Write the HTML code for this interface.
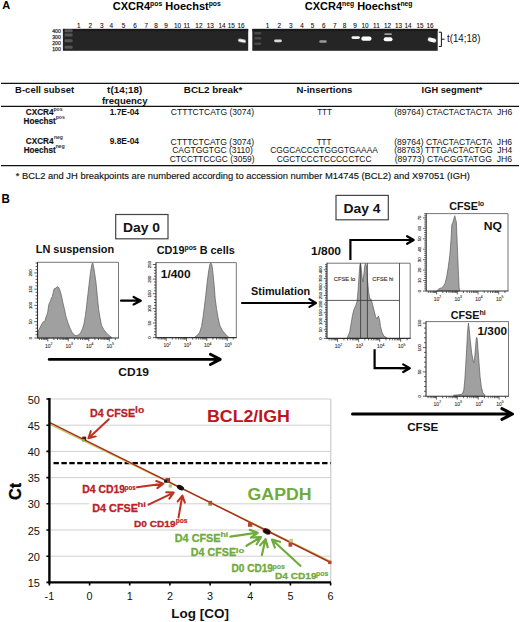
<!DOCTYPE html>
<html><head><meta charset="utf-8"><style>
html,body{margin:0;padding:0;background:#fff;}
svg{display:block;font-family:"Liberation Sans", sans-serif;}
</style></head><body>
<svg width="520" height="622" viewBox="0 0 520 622" font-family='"Liberation Sans", sans-serif'>
<rect width="520" height="622" fill="#fff"/>
<text x="2.3" y="8.9" font-size="11" font-weight="bold" fill="#000">A</text>
<text x="112.8" y="9.5" font-size="10.5" font-weight="bold" textLength="108" lengthAdjust="spacingAndGlyphs">CXCR4<tspan font-size="6.5" dy="-3.5">pos</tspan><tspan dy="3.5"> Hoechst</tspan><tspan font-size="6.5" dy="-3.5">pos</tspan></text>
<text x="304.8" y="9.5" font-size="10.5" font-weight="bold" textLength="107.7" lengthAdjust="spacingAndGlyphs">CXCR4<tspan font-size="6.5" dy="-3.5">neg</tspan><tspan dy="3.5"> Hoechst</tspan><tspan font-size="6.5" dy="-3.5">neg</tspan></text>
<rect x="62.9" y="28.9" width="185.29999999999998" height="21.9" fill="#252525"/>
<rect x="252.3" y="28.9" width="185.39999999999998" height="21.9" fill="#252525"/>
<rect x="62.9" y="28.9" width="185.29999999999998" height="2.2" fill="#1a1a1a"/>
<rect x="252.3" y="28.9" width="185.39999999999998" height="2.2" fill="#1a1a1a"/>
<text x="60.8" y="32.8" font-size="5.2" fill="#333" text-anchor="end" stroke="#333" stroke-width="0.25">400</text>
<text x="60.8" y="38.6" font-size="5.2" fill="#333" text-anchor="end" stroke="#333" stroke-width="0.25">300</text>
<text x="60.8" y="44.7" font-size="5.2" fill="#333" text-anchor="end" stroke="#333" stroke-width="0.25">200</text>
<text x="60.8" y="50.5" font-size="5.2" fill="#333" text-anchor="end" stroke="#333" stroke-width="0.25">100</text>
<rect x="64.6" y="29.3" width="8.0" height="3.0" fill="#555" rx="1" filter="url(#bl)"/>
<rect x="64.6" y="33.6" width="8.0" height="3.0" fill="#555" rx="1" filter="url(#bl)"/>
<rect x="64.6" y="39.2" width="8.0" height="3.0" fill="#555" rx="1" filter="url(#bl)"/>
<rect x="64.6" y="45.7" width="8.0" height="3.0" fill="#555" rx="1" filter="url(#bl)"/>
<rect x="254.3" y="31.900000000000002" width="7.0" height="2.6" fill="#484848" rx="1" filter="url(#bl)"/>
<rect x="254.3" y="37.0" width="7.0" height="2.6" fill="#484848" rx="1" filter="url(#bl)"/>
<rect x="254.3" y="42.5" width="7.0" height="2.6" fill="#484848" rx="1" filter="url(#bl)"/>
<text x="78.7" y="27.7" font-size="6.4" fill="#111" text-anchor="middle" stroke="#111" stroke-width="0.1">1</text>
<text x="90.2" y="27.7" font-size="6.4" fill="#111" text-anchor="middle" stroke="#111" stroke-width="0.1">2</text>
<text x="101.7" y="27.7" font-size="6.4" fill="#111" text-anchor="middle" stroke="#111" stroke-width="0.1">3</text>
<text x="111.3" y="27.7" font-size="6.4" fill="#111" text-anchor="middle" stroke="#111" stroke-width="0.1">4</text>
<text x="123.5" y="27.7" font-size="6.4" fill="#111" text-anchor="middle" stroke="#111" stroke-width="0.1">5</text>
<text x="135" y="27.7" font-size="6.4" fill="#111" text-anchor="middle" stroke="#111" stroke-width="0.1">6</text>
<text x="146.3" y="27.7" font-size="6.4" fill="#111" text-anchor="middle" stroke="#111" stroke-width="0.1">7</text>
<text x="156" y="27.7" font-size="6.4" fill="#111" text-anchor="middle" stroke="#111" stroke-width="0.1">8</text>
<text x="166" y="27.7" font-size="6.4" fill="#111" text-anchor="middle" stroke="#111" stroke-width="0.1">9</text>
<text x="177.6" y="27.7" font-size="6.4" fill="#111" text-anchor="middle" stroke="#111" stroke-width="0.1">10</text>
<text x="186.8" y="27.7" font-size="6.4" fill="#111" text-anchor="middle" stroke="#111" stroke-width="0.1">11</text>
<text x="198.9" y="27.7" font-size="6.4" fill="#111" text-anchor="middle" stroke="#111" stroke-width="0.1">12</text>
<text x="210.2" y="27.7" font-size="6.4" fill="#111" text-anchor="middle" stroke="#111" stroke-width="0.1">13</text>
<text x="222.1" y="27.7" font-size="6.4" fill="#111" text-anchor="middle" stroke="#111" stroke-width="0.1">14</text>
<text x="231.3" y="27.7" font-size="6.4" fill="#111" text-anchor="middle" stroke="#111" stroke-width="0.1">15</text>
<text x="241.1" y="27.7" font-size="6.4" fill="#111" text-anchor="middle" stroke="#111" stroke-width="0.1">16</text>
<text x="267.5" y="27.7" font-size="6.4" fill="#111" text-anchor="middle" stroke="#111" stroke-width="0.1">1</text>
<text x="279.2" y="27.7" font-size="6.4" fill="#111" text-anchor="middle" stroke="#111" stroke-width="0.1">2</text>
<text x="290.8" y="27.7" font-size="6.4" fill="#111" text-anchor="middle" stroke="#111" stroke-width="0.1">3</text>
<text x="302.1" y="27.7" font-size="6.4" fill="#111" text-anchor="middle" stroke="#111" stroke-width="0.1">4</text>
<text x="312.6" y="27.7" font-size="6.4" fill="#111" text-anchor="middle" stroke="#111" stroke-width="0.1">5</text>
<text x="323.9" y="27.7" font-size="6.4" fill="#111" text-anchor="middle" stroke="#111" stroke-width="0.1">6</text>
<text x="334.9" y="27.7" font-size="6.4" fill="#111" text-anchor="middle" stroke="#111" stroke-width="0.1">7</text>
<text x="344.5" y="27.7" font-size="6.4" fill="#111" text-anchor="middle" stroke="#111" stroke-width="0.1">8</text>
<text x="355" y="27.7" font-size="6.4" fill="#111" text-anchor="middle" stroke="#111" stroke-width="0.1">9</text>
<text x="365.1" y="27.7" font-size="6.4" fill="#111" text-anchor="middle" stroke="#111" stroke-width="0.1">10</text>
<text x="376.4" y="27.7" font-size="6.4" fill="#111" text-anchor="middle" stroke="#111" stroke-width="0.1">11</text>
<text x="387.6" y="27.7" font-size="6.4" fill="#111" text-anchor="middle" stroke="#111" stroke-width="0.1">12</text>
<text x="398.6" y="27.7" font-size="6.4" fill="#111" text-anchor="middle" stroke="#111" stroke-width="0.1">13</text>
<text x="408.1" y="27.7" font-size="6.4" fill="#111" text-anchor="middle" stroke="#111" stroke-width="0.1">14</text>
<text x="420" y="27.7" font-size="6.4" fill="#111" text-anchor="middle" stroke="#111" stroke-width="0.1">15</text>
<text x="430" y="27.7" font-size="6.4" fill="#111" text-anchor="middle" stroke="#111" stroke-width="0.1">16</text>
<defs><filter id="bl" x="-50%" y="-80%" width="200%" height="260%"><feGaussianBlur stdDeviation="0.55"/></filter><filter id="bl2" x="-50%" y="-80%" width="200%" height="260%"><feGaussianBlur stdDeviation="0.35"/></filter></defs>
<rect x="238.1" y="39.2" width="7.8" height="3.0" rx="1.5" fill="#f6f6f6" filter="url(#bl)" transform="rotate(12 242 40.7)"/>
<rect x="274.1" y="39.4" width="7.8" height="2.8" rx="1.4" fill="#d8d8d8" filter="url(#bl)" transform="rotate(0 278 40.8)"/>
<rect x="319.3" y="40.3" width="7.4" height="2.4" rx="1.2" fill="#9a9a9a" filter="url(#bl)" transform="rotate(0 323 41.5)"/>
<rect x="351.5" y="36.2" width="8.4" height="2.8" rx="1.4" fill="#f2f2f2" filter="url(#bl)" transform="rotate(0 355.7 37.6)"/>
<rect x="361.3" y="36.6" width="10.2" height="4.2" rx="2" fill="#ffffff" filter="url(#bl)" transform="rotate(0 366.4 38.7)"/>
<rect x="383.7" y="37.3" width="8.8" height="4.0" rx="2.0" fill="#ffffff" filter="url(#bl)" transform="rotate(0 388.1 39.3)"/>
<rect x="384.3" y="33.3" width="7.6" height="1.8" rx="0.9" fill="#9a9a9a" filter="url(#bl)" transform="rotate(0 388.1 34.2)"/>
<rect x="427.7" y="38.0" width="8.6" height="4.0" rx="2.0" fill="#fafafa" filter="url(#bl)" transform="rotate(14 432 40.0)"/>
<path d="M438.8,32.2 H441.4 V46.4 H438.8 M441.4,39.2 H444.6" fill="none" stroke="#111" stroke-width="1"/>
<text x="447.09" y="42.3" font-size="10.3" fill="#111" textLength="33.32" lengthAdjust="spacingAndGlyphs">t(14;18)</text>
<line x1="1" y1="83.3" x2="519" y2="83.3" stroke="#111" stroke-width="1.3"/>
<line x1="1" y1="106.3" x2="519" y2="106.3" stroke="#111" stroke-width="1.3"/>
<line x1="1" y1="165.7" x2="519" y2="165.7" stroke="#111" stroke-width="1.3"/>
<text x="15.11" y="92.5" font-size="9.8" font-weight="bold" fill="#111" textLength="58.98" lengthAdjust="spacingAndGlyphs">B-cell subset</text>
<text x="107.11" y="93.3" font-size="9.8" font-weight="bold" fill="#111" textLength="35.08" lengthAdjust="spacingAndGlyphs">t(14;18)</text>
<text x="101.91" y="104.0" font-size="9.8" font-weight="bold" fill="#111" textLength="45.58" lengthAdjust="spacingAndGlyphs">frequency</text>
<text x="183.81" y="92.5" font-size="9.8" font-weight="bold" fill="#111" textLength="58.58" lengthAdjust="spacingAndGlyphs">BCL2 break*</text>
<text x="296.61" y="92.5" font-size="9.8" font-weight="bold" fill="#111" textLength="55.78" lengthAdjust="spacingAndGlyphs">N-insertions</text>
<text x="421.61" y="92.5" font-size="9.8" font-weight="bold" fill="#111" textLength="60.78" lengthAdjust="spacingAndGlyphs">IGH segment*</text>
<text x="25.87" y="114.9" font-size="8.3" font-weight="bold" fill="#111" textLength="27.66" lengthAdjust="spacingAndGlyphs" stroke="#111" stroke-width="0.15">CXCR4</text>
<text x="53.38" y="110.6" font-size="5.4" font-weight="bold" fill="#333" textLength="9.13" lengthAdjust="spacingAndGlyphs">pos</text>
<text x="23.57" y="124.2" font-size="8.3" font-weight="bold" fill="#111" textLength="32.16" lengthAdjust="spacingAndGlyphs" stroke="#111" stroke-width="0.15">Hoechst</text>
<text x="55.68" y="119.3" font-size="5.4" font-weight="bold" fill="#333" textLength="9.13" lengthAdjust="spacingAndGlyphs">pos</text>
<text x="109.67" y="115" font-size="8.3" font-weight="bold" fill="#111" textLength="29.36" lengthAdjust="spacingAndGlyphs">1.7E-04</text>
<text x="170.87" y="115" font-size="8.3" fill="#111" textLength="83.16" lengthAdjust="spacingAndGlyphs">CTTTCTCATG (3074)</text>
<text x="317.17" y="115" font-size="8.3" fill="#111" textLength="14.86" lengthAdjust="spacingAndGlyphs">TTT</text>
<text x="394.17" y="115" font-size="8.3" fill="#111" textLength="118.16" lengthAdjust="spacingAndGlyphs">(89764) CTACTACTACTA&#160;&#160;JH6</text>
<text x="25.87" y="143.7" font-size="8.3" font-weight="bold" fill="#111" textLength="27.66" lengthAdjust="spacingAndGlyphs" stroke="#111" stroke-width="0.15">CXCR4</text>
<text x="53.88" y="139.4" font-size="5.4" font-weight="bold" fill="#333" textLength="8.83" lengthAdjust="spacingAndGlyphs">neg</text>
<text x="23.67" y="152.8" font-size="8.3" font-weight="bold" fill="#111" textLength="31.96" lengthAdjust="spacingAndGlyphs" stroke="#111" stroke-width="0.15">Hoechst</text>
<text x="55.38" y="147.6" font-size="5.4" font-weight="bold" fill="#333" textLength="9.43" lengthAdjust="spacingAndGlyphs">neg</text>
<text x="109.67" y="143.8" font-size="8.3" font-weight="bold" fill="#111" textLength="29.36" lengthAdjust="spacingAndGlyphs">9.8E-04</text>
<text x="170.47" y="144.5" font-size="8.3" fill="#111" textLength="83.66" lengthAdjust="spacingAndGlyphs">CTTTCTCATG (3074)</text>
<text x="172.17" y="153.0" font-size="8.3" fill="#111" textLength="80.66" lengthAdjust="spacingAndGlyphs">CAGTGGTGC (3110)</text>
<text x="169.67" y="161.7" font-size="8.3" fill="#111" textLength="84.86" lengthAdjust="spacingAndGlyphs">CTCCTTCCGC (3059)</text>
<text x="316.67" y="144.5" font-size="8.3" fill="#111" textLength="14.86" lengthAdjust="spacingAndGlyphs">TTT</text>
<text x="270.17" y="153.0" font-size="8.3" fill="#111" textLength="107.66" lengthAdjust="spacingAndGlyphs">CGGCACCGTGGGTGAAAA</text>
<text x="276.67" y="161.7" font-size="8.3" fill="#111" textLength="94.86" lengthAdjust="spacingAndGlyphs">CGCTCCCTCCCCCTCC</text>
<text x="394.17" y="144.5" font-size="8.3" fill="#111" textLength="117.96" lengthAdjust="spacingAndGlyphs">(89764) CTACTACTACTA&#160;&#160;JH6</text>
<text x="394.17" y="153.0" font-size="8.3" fill="#111" textLength="117.96" lengthAdjust="spacingAndGlyphs">(88763) TTTGACTACTGG&#160;&#160;JH4</text>
<text x="394.67" y="161.7" font-size="8.3" fill="#111" textLength="117.46" lengthAdjust="spacingAndGlyphs">(89773) CTACGGTATGG&#160;&#160;JH6</text>
<text x="15.8" y="179.3" font-size="9.9" fill="#111" textLength="454.09" lengthAdjust="spacingAndGlyphs" stroke="#111" stroke-width="0.15">* BCL2 and JH breakpoints are numbered according to accession number M14745 (BCL2) and X97051 (IGH)</text>
<text x="1.41" y="202.7" font-size="12.2" font-weight="bold" fill="#000" textLength="8.38" lengthAdjust="spacingAndGlyphs">B</text>
<rect x="115.7" y="214.5" width="52.3" height="24.3" fill="#fff" stroke="#444" stroke-width="1.2"/>
<text x="122.96" y="231.6" font-size="13.6" font-weight="bold" fill="#111" textLength="37.09" lengthAdjust="spacingAndGlyphs">Day 0</text>
<rect x="336" y="195.4" width="52.3" height="24.4" fill="#fff" stroke="#444" stroke-width="1.2"/>
<text x="343.46" y="212.8" font-size="13.6" font-weight="bold" fill="#111" textLength="37.09" lengthAdjust="spacingAndGlyphs">Day 4</text>
<text x="35.76" y="253" font-size="11" font-weight="bold" fill="#111" textLength="78.38" lengthAdjust="spacingAndGlyphs">LN suspension</text>
<text x="156.7" y="254.2" font-size="11" font-weight="bold" fill="#111" textLength="78" lengthAdjust="spacingAndGlyphs">CD19<tspan font-size="7" dy="-4">pos</tspan><tspan dy="4"> B cells</tspan></text>
<text x="311.04" y="255" font-size="11.5" font-weight="bold" fill="#111" textLength="29.92" lengthAdjust="spacingAndGlyphs">1/800</text>
<text x="449.2" y="210.3" font-size="10.6" font-weight="bold" fill="#111" textLength="35" lengthAdjust="spacingAndGlyphs">CFSE<tspan font-size="7" dy="-4">lo</tspan></text>
<text x="450.8" y="319.2" font-size="10.6" font-weight="bold" fill="#111" textLength="35" lengthAdjust="spacingAndGlyphs">CFSE<tspan font-size="7" dy="-4">hi</tspan></text>
<text x="251.07" y="294.8" font-size="10.8" font-weight="bold" fill="#111" textLength="59.16" lengthAdjust="spacingAndGlyphs">Stimulation</text>
<text x="118.37" y="376.2" font-size="10.8" font-weight="bold" fill="#111" textLength="30.66" lengthAdjust="spacingAndGlyphs">CD19</text>
<text x="407.15" y="431.4" font-size="11.2" font-weight="bold" fill="#111" textLength="31.2" lengthAdjust="spacingAndGlyphs">CFSE</text>
<polygon points="38.0,338.0 38.0,330.8 39.1,329.4 41.2,325.2 43.3,321.7 44.7,321.7 46.1,316.8 47.5,313.3 48.9,304.2 50.3,301.4 51.7,297.2 52.4,296.5 53.1,293.0 54.1,288.8 55.9,288.1 57.3,286.7 58.7,287.4 60.1,290.9 61.5,295.8 62.9,302.8 64.3,308.4 65.7,315.4 67.8,322.4 69.9,328.0 72.0,332.2 74.2,335.0 76.3,335.7 78.4,335.0 80.5,332.9 82.6,328.7 84.0,323.8 85.4,315.4 86.8,304.2 87.9,294.4 88.9,286.0 90.0,276.2 91.0,269.2 92.1,263.6 92.8,262.9 93.8,267.8 94.9,274.8 95.9,281.8 96.9,291.6 97.7,300.0 98.7,309.8 100.1,318.2 101.5,325.2 103.6,329.4 106.4,332.9 109.2,335.7 111.3,337.1 112.0,337.8 112.0,338.0" fill="#a0a0a0" stroke="#5a5a5a" stroke-width="0.7" stroke-linejoin="round"/>
<path d="M37.5,262.3 H118.5 V338.0" fill="none" stroke="#666" stroke-width="0.9"/>
<path d="M37.5,261.90000000000003 V338.0 H118.9" fill="none" stroke="#333" stroke-width="1.1"/>
<path d="M34.3,338.0H37.5 M35.5,334.7H37.5 M35.5,331.5H37.5 M35.5,328.2H37.5 M35.5,325.0H37.5 M34.3,321.7H37.5 M35.5,318.5H37.5 M35.5,315.2H37.5 M35.5,312.0H37.5 M35.5,308.7H37.5 M34.3,305.4H37.5 M35.5,302.2H37.5 M35.5,298.9H37.5 M35.5,295.7H37.5 M35.5,292.4H37.5 M34.3,289.2H37.5 M35.5,285.9H37.5 M35.5,282.7H37.5 M35.5,279.4H37.5 M35.5,276.2H37.5 M34.3,272.9H37.5 M35.5,269.6H37.5 M35.5,266.4H37.5 M35.5,263.1H37.5 M39.6,338.0V340.0 M41.6,338.0V340.0 M43.2,338.0V340.0 M44.6,338.0V340.0 M45.8,338.0V340.0 M46.8,338.0V340.0 M47.8,338.0V341.4 M53.9,338.0V340.0 M57.5,338.0V340.0 M60.1,338.0V340.0 M62.1,338.0V340.0 M63.7,338.0V340.0 M65.1,338.0V340.0 M66.3,338.0V340.0 M67.3,338.0V340.0 M68.3,338.0V341.4 M74.4,338.0V340.0 M78.0,338.0V340.0 M80.6,338.0V340.0 M82.6,338.0V340.0 M84.2,338.0V340.0 M85.6,338.0V340.0 M86.8,338.0V340.0 M87.8,338.0V340.0 M88.8,338.0V341.4 M94.9,338.0V340.0 M98.5,338.0V340.0 M101.1,338.0V340.0 M103.1,338.0V340.0 M104.7,338.0V340.0 M106.1,338.0V340.0 M107.3,338.0V340.0 M108.3,338.0V340.0 M109.3,338.0V341.4 M115.4,338.0V340.0" stroke="#222" stroke-width="0.7" fill="none"/>
<text x="45.0" y="347.6" font-size="5" fill="#333" stroke="#333" stroke-width="0.1">10<tspan font-size="3.4" dy="-2.4">2</tspan></text>
<text x="65.5" y="347.6" font-size="5" fill="#333" stroke="#333" stroke-width="0.1">10<tspan font-size="3.4" dy="-2.4">3</tspan></text>
<text x="86.0" y="347.6" font-size="5" fill="#333" stroke="#333" stroke-width="0.1">10<tspan font-size="3.4" dy="-2.4">4</tspan></text>
<text x="106.5" y="347.6" font-size="5" fill="#333" stroke="#333" stroke-width="0.1">10<tspan font-size="3.4" dy="-2.4">5</tspan></text>
<text x="32.2" y="338.0" font-size="4.4" fill="#222" stroke="#222" stroke-width="0.12" text-anchor="middle" transform="rotate(-90 32.2 338.0)">0</text>
<text x="32.2" y="321.7" font-size="4.4" fill="#222" stroke="#222" stroke-width="0.12" text-anchor="middle" transform="rotate(-90 32.2 321.7)">50</text>
<text x="32.2" y="305.4" font-size="4.4" fill="#222" stroke="#222" stroke-width="0.12" text-anchor="middle" transform="rotate(-90 32.2 305.4)">100</text>
<text x="32.2" y="289.2" font-size="4.4" fill="#222" stroke="#222" stroke-width="0.12" text-anchor="middle" transform="rotate(-90 32.2 289.2)">150</text>
<text x="32.2" y="272.9" font-size="4.4" fill="#222" stroke="#222" stroke-width="0.12" text-anchor="middle" transform="rotate(-90 32.2 272.9)">200</text>
<polygon points="194.8,337.6 194.8,337.1 197.6,335.0 199.7,332.2 201.5,326.6 202.9,318.2 204.3,307.0 205.7,295.8 207.1,283.2 208.5,272.0 209.9,264.3 210.9,262.9 211.9,265.0 213.0,273.4 214.1,284.6 215.2,298.6 216.5,308.4 217.9,316.8 219.7,325.2 222.1,330.1 224.9,333.6 227.7,336.4 229.1,337.5 229.1,337.6" fill="#a0a0a0" stroke="#5a5a5a" stroke-width="0.7" stroke-linejoin="round"/>
<path d="M156.0,262.6 H236.3 V337.6" fill="none" stroke="#666" stroke-width="0.9"/>
<path d="M156.0,262.20000000000005 V337.6 H236.70000000000002" fill="none" stroke="#333" stroke-width="1.1"/>
<path d="M152.8,337.6H156.0 M154.0,334.7H156.0 M154.0,331.8H156.0 M154.0,328.8H156.0 M154.0,325.9H156.0 M152.8,323.0H156.0 M154.0,320.1H156.0 M154.0,317.1H156.0 M154.0,314.2H156.0 M154.0,311.3H156.0 M152.8,308.4H156.0 M154.0,305.4H156.0 M154.0,302.5H156.0 M154.0,299.6H156.0 M154.0,296.7H156.0 M152.8,293.7H156.0 M154.0,290.8H156.0 M154.0,287.9H156.0 M154.0,285.0H156.0 M154.0,282.0H156.0 M152.8,279.1H156.0 M154.0,276.2H156.0 M154.0,273.2H156.0 M154.0,270.3H156.0 M154.0,267.4H156.0 M152.8,264.5H156.0 M158.1,337.6V339.6 M160.0,337.6V339.6 M161.7,337.6V339.6 M163.0,337.6V339.6 M164.2,337.6V339.6 M165.2,337.6V339.6 M166.2,337.6V341.0 M172.3,337.6V339.6 M175.9,337.6V339.6 M178.4,337.6V339.6 M180.4,337.6V339.6 M182.0,337.6V339.6 M183.3,337.6V339.6 M184.5,337.6V339.6 M185.6,337.6V339.6 M186.5,337.6V341.0 M192.6,337.6V339.6 M196.2,337.6V339.6 M198.7,337.6V339.6 M200.7,337.6V339.6 M202.3,337.6V339.6 M203.7,337.6V339.6 M204.9,337.6V339.6 M205.9,337.6V339.6 M206.8,337.6V341.0 M212.9,337.6V339.6 M216.5,337.6V339.6 M219.1,337.6V339.6 M221.0,337.6V339.6 M222.6,337.6V339.6 M224.0,337.6V339.6 M225.2,337.6V339.6 M226.2,337.6V339.6 M227.2,337.6V341.0 M233.3,337.6V339.6" stroke="#222" stroke-width="0.7" fill="none"/>
<text x="163.4" y="347.2" font-size="5" fill="#333" stroke="#333" stroke-width="0.1">10<tspan font-size="3.4" dy="-2.4">2</tspan></text>
<text x="183.7" y="347.2" font-size="5" fill="#333" stroke="#333" stroke-width="0.1">10<tspan font-size="3.4" dy="-2.4">3</tspan></text>
<text x="204.0" y="347.2" font-size="5" fill="#333" stroke="#333" stroke-width="0.1">10<tspan font-size="3.4" dy="-2.4">4</tspan></text>
<text x="224.4" y="347.2" font-size="5" fill="#333" stroke="#333" stroke-width="0.1">10<tspan font-size="3.4" dy="-2.4">5</tspan></text>
<text x="150.7" y="337.6" font-size="4.4" fill="#222" stroke="#222" stroke-width="0.12" text-anchor="middle" transform="rotate(-90 150.7 337.6)">0</text>
<text x="150.7" y="323.0" font-size="4.4" fill="#222" stroke="#222" stroke-width="0.12" text-anchor="middle" transform="rotate(-90 150.7 323.0)">50</text>
<text x="150.7" y="308.4" font-size="4.4" fill="#222" stroke="#222" stroke-width="0.12" text-anchor="middle" transform="rotate(-90 150.7 308.4)">100</text>
<text x="150.7" y="293.7" font-size="4.4" fill="#222" stroke="#222" stroke-width="0.12" text-anchor="middle" transform="rotate(-90 150.7 293.7)">150</text>
<text x="150.7" y="279.1" font-size="4.4" fill="#222" stroke="#222" stroke-width="0.12" text-anchor="middle" transform="rotate(-90 150.7 279.1)">200</text>
<text x="150.7" y="264.5" font-size="4.4" fill="#222" stroke="#222" stroke-width="0.12" text-anchor="middle" transform="rotate(-90 150.7 264.5)">250</text>
<text x="160.74" y="277.8" font-size="11.5" font-weight="bold" fill="#111" textLength="29.92" lengthAdjust="spacingAndGlyphs">1/400</text>
<polygon points="347.6,338.4 347.6,337.0 349.7,332.1 351.1,323.7 352.5,315.3 353.9,309.7 355.7,305.6 357.1,301.4 358.1,290.2 359.1,274.8 359.9,265.0 360.5,263.6 361.3,269.2 362.3,279.0 363.0,281.8 363.8,274.8 364.7,266.4 365.5,263.3 366.5,266.4 367.4,279.0 368.6,291.6 369.7,298.6 371.1,299.3 372.5,304.2 374.2,311.1 375.6,316.7 377.0,318.8 378.4,316.0 379.5,319.5 380.5,326.5 381.9,332.1 384.0,336.3 386.7,337.7 386.7,338.4" fill="#a0a0a0" stroke="#5a5a5a" stroke-width="0.7" stroke-linejoin="round"/>
<path d="M327.0,263.2 H410.2 V338.4" fill="none" stroke="#666" stroke-width="0.9"/>
<path d="M327.0,262.8 V338.4 H410.59999999999997" fill="none" stroke="#333" stroke-width="1.1"/>
<path d="M323.8,338.4H327.0 M325.0,336.7H327.0 M325.0,335.0H327.0 M325.0,333.3H327.0 M325.0,331.5H327.0 M323.8,329.8H327.0 M325.0,328.1H327.0 M325.0,326.4H327.0 M325.0,324.7H327.0 M325.0,323.0H327.0 M323.8,321.3H327.0 M325.0,319.5H327.0 M325.0,317.8H327.0 M325.0,316.1H327.0 M325.0,314.4H327.0 M323.8,312.7H327.0 M325.0,311.0H327.0 M325.0,309.3H327.0 M325.0,307.5H327.0 M325.0,305.8H327.0 M323.8,304.1H327.0 M325.0,302.4H327.0 M325.0,300.7H327.0 M325.0,299.0H327.0 M325.0,297.3H327.0 M323.8,295.5H327.0 M325.0,293.8H327.0 M325.0,292.1H327.0 M325.0,290.4H327.0 M325.0,288.7H327.0 M323.8,287.0H327.0 M325.0,285.2H327.0 M325.0,283.5H327.0 M325.0,281.8H327.0 M325.0,280.1H327.0 M323.8,278.4H327.0 M325.0,276.7H327.0 M325.0,275.0H327.0 M325.0,273.2H327.0 M325.0,271.5H327.0 M323.8,269.8H327.0 M325.0,268.1H327.0 M325.0,266.4H327.0 M325.0,264.7H327.0 M329.1,338.4V340.4 M331.2,338.4V340.4 M332.9,338.4V340.4 M334.3,338.4V340.4 M335.5,338.4V340.4 M336.6,338.4V340.4 M337.5,338.4V341.79999999999995 M343.9,338.4V340.4 M347.6,338.4V340.4 M350.2,338.4V340.4 M352.3,338.4V340.4 M353.9,338.4V340.4 M355.3,338.4V340.4 M356.6,338.4V340.4 M357.6,338.4V340.4 M358.6,338.4V341.79999999999995 M364.9,338.4V340.4 M368.6,338.4V340.4 M371.3,338.4V340.4 M373.3,338.4V340.4 M375.0,338.4V340.4 M376.4,338.4V340.4 M377.6,338.4V340.4 M378.7,338.4V340.4 M379.7,338.4V341.79999999999995 M386.0,338.4V340.4 M389.7,338.4V340.4 M392.3,338.4V340.4 M394.4,338.4V340.4 M396.0,338.4V340.4 M397.5,338.4V340.4 M398.7,338.4V340.4 M399.8,338.4V340.4 M400.7,338.4V341.79999999999995 M407.1,338.4V340.4" stroke="#222" stroke-width="0.7" fill="none"/>
<text x="334.7" y="348.0" font-size="5" fill="#333" stroke="#333" stroke-width="0.1">10<tspan font-size="3.4" dy="-2.4">2</tspan></text>
<text x="355.8" y="348.0" font-size="5" fill="#333" stroke="#333" stroke-width="0.1">10<tspan font-size="3.4" dy="-2.4">3</tspan></text>
<text x="376.9" y="348.0" font-size="5" fill="#333" stroke="#333" stroke-width="0.1">10<tspan font-size="3.4" dy="-2.4">4</tspan></text>
<text x="397.9" y="348.0" font-size="5" fill="#333" stroke="#333" stroke-width="0.1">10<tspan font-size="3.4" dy="-2.4">5</tspan></text>
<text x="321.7" y="338.4" font-size="4.4" fill="#222" stroke="#222" stroke-width="0.12" text-anchor="middle" transform="rotate(-90 321.7 338.4)">0</text>
<text x="321.7" y="329.8" font-size="4.4" fill="#222" stroke="#222" stroke-width="0.12" text-anchor="middle" transform="rotate(-90 321.7 329.8)">50</text>
<text x="321.7" y="321.3" font-size="4.4" fill="#222" stroke="#222" stroke-width="0.12" text-anchor="middle" transform="rotate(-90 321.7 321.3)">100</text>
<text x="321.7" y="312.7" font-size="4.4" fill="#222" stroke="#222" stroke-width="0.12" text-anchor="middle" transform="rotate(-90 321.7 312.7)">150</text>
<text x="321.7" y="304.1" font-size="4.4" fill="#222" stroke="#222" stroke-width="0.12" text-anchor="middle" transform="rotate(-90 321.7 304.1)">200</text>
<text x="321.7" y="295.5" font-size="4.4" fill="#222" stroke="#222" stroke-width="0.12" text-anchor="middle" transform="rotate(-90 321.7 295.5)">250</text>
<text x="321.7" y="287.0" font-size="4.4" fill="#222" stroke="#222" stroke-width="0.12" text-anchor="middle" transform="rotate(-90 321.7 287.0)">300</text>
<text x="321.7" y="278.4" font-size="4.4" fill="#222" stroke="#222" stroke-width="0.12" text-anchor="middle" transform="rotate(-90 321.7 278.4)">350</text>
<text x="321.7" y="269.8" font-size="4.4" fill="#222" stroke="#222" stroke-width="0.12" text-anchor="middle" transform="rotate(-90 321.7 269.8)">400</text>
<path d="M327,300.4 H399.5 M360.6,263.2 V338.4 M367.4,263.2 V338.4 M399.5,263.2 V338.4" stroke="#333" stroke-width="0.8" fill="none"/>
<text x="333.78" y="281.3" font-size="5.6" fill="#333" textLength="21.45" lengthAdjust="spacingAndGlyphs" stroke="#333" stroke-width="0.15">CFSE lo</text>
<text x="372.38" y="281.3" font-size="5.6" fill="#333" textLength="20.95" lengthAdjust="spacingAndGlyphs" stroke="#333" stroke-width="0.15">CFSE hi</text>
<polygon points="436.8,291.0 436.8,290.8 439.1,288.7 441.4,287.9 443.7,285.9 445.2,282.9 446.7,276.8 448.2,267.6 449.8,255.4 451.0,240.1 451.8,224.8 452.8,222.6 453.9,218.7 454.8,215.7 455.6,219.5 456.3,221.8 456.9,235.5 457.7,255.4 458.5,275.2 459.1,287.4 459.7,290.8 459.7,291.0" fill="#a0a0a0" stroke="#5a5a5a" stroke-width="0.7" stroke-linejoin="round"/>
<path d="M426.2,213.6 H508.0 V291.0" fill="none" stroke="#666" stroke-width="0.9"/>
<path d="M426.2,213.2 V291.0 H508.4" fill="none" stroke="#333" stroke-width="1.1"/>
<path d="M423.0,291.0H426.2 M424.2,288.9H426.2 M424.2,286.8H426.2 M424.2,284.7H426.2 M424.2,282.6H426.2 M423.0,280.6H426.2 M424.2,278.5H426.2 M424.2,276.4H426.2 M424.2,274.3H426.2 M424.2,272.2H426.2 M423.0,270.1H426.2 M424.2,268.0H426.2 M424.2,265.9H426.2 M424.2,263.8H426.2 M424.2,261.7H426.2 M423.0,259.7H426.2 M424.2,257.6H426.2 M424.2,255.5H426.2 M424.2,253.4H426.2 M424.2,251.3H426.2 M423.0,249.2H426.2 M424.2,247.1H426.2 M424.2,245.0H426.2 M424.2,242.9H426.2 M424.2,240.8H426.2 M423.0,238.8H426.2 M424.2,236.7H426.2 M424.2,234.6H426.2 M424.2,232.5H426.2 M424.2,230.4H426.2 M423.0,228.3H426.2 M424.2,226.2H426.2 M424.2,224.1H426.2 M424.2,222.0H426.2 M424.2,219.9H426.2 M423.0,217.9H426.2 M424.2,215.8H426.2 M424.2,213.7H426.2 M428.3,291.0V293.0 M430.3,291.0V293.0 M432.0,291.0V293.0 M433.3,291.0V293.0 M434.5,291.0V293.0 M435.6,291.0V293.0 M436.6,291.0V294.4 M442.8,291.0V293.0 M446.4,291.0V293.0 M449.0,291.0V293.0 M451.0,291.0V293.0 M452.7,291.0V293.0 M454.1,291.0V293.0 M455.3,291.0V293.0 M456.3,291.0V293.0 M457.3,291.0V294.4 M463.5,291.0V293.0 M467.1,291.0V293.0 M469.7,291.0V293.0 M471.7,291.0V293.0 M473.4,291.0V293.0 M474.8,291.0V293.0 M476.0,291.0V293.0 M477.0,291.0V293.0 M478.0,291.0V294.4 M484.2,291.0V293.0 M487.9,291.0V293.0 M490.4,291.0V293.0 M492.4,291.0V293.0 M494.1,291.0V293.0 M495.5,291.0V293.0 M496.7,291.0V293.0 M497.7,291.0V293.0 M498.7,291.0V294.4 M504.9,291.0V293.0" stroke="#222" stroke-width="0.7" fill="none"/>
<text x="433.8" y="300.6" font-size="5" fill="#333" stroke="#333" stroke-width="0.1">10<tspan font-size="3.4" dy="-2.4">2</tspan></text>
<text x="454.5" y="300.6" font-size="5" fill="#333" stroke="#333" stroke-width="0.1">10<tspan font-size="3.4" dy="-2.4">3</tspan></text>
<text x="475.2" y="300.6" font-size="5" fill="#333" stroke="#333" stroke-width="0.1">10<tspan font-size="3.4" dy="-2.4">4</tspan></text>
<text x="495.9" y="300.6" font-size="5" fill="#333" stroke="#333" stroke-width="0.1">10<tspan font-size="3.4" dy="-2.4">5</tspan></text>
<text x="420.9" y="291.0" font-size="4.4" fill="#222" stroke="#222" stroke-width="0.12" text-anchor="middle" transform="rotate(-90 420.9 291.0)">0</text>
<text x="420.9" y="280.6" font-size="4.4" fill="#222" stroke="#222" stroke-width="0.12" text-anchor="middle" transform="rotate(-90 420.9 280.6)">10</text>
<text x="420.9" y="270.1" font-size="4.4" fill="#222" stroke="#222" stroke-width="0.12" text-anchor="middle" transform="rotate(-90 420.9 270.1)">20</text>
<text x="420.9" y="259.7" font-size="4.4" fill="#222" stroke="#222" stroke-width="0.12" text-anchor="middle" transform="rotate(-90 420.9 259.7)">30</text>
<text x="420.9" y="249.2" font-size="4.4" fill="#222" stroke="#222" stroke-width="0.12" text-anchor="middle" transform="rotate(-90 420.9 249.2)">40</text>
<text x="420.9" y="238.8" font-size="4.4" fill="#222" stroke="#222" stroke-width="0.12" text-anchor="middle" transform="rotate(-90 420.9 238.8)">50</text>
<text x="420.9" y="228.3" font-size="4.4" fill="#222" stroke="#222" stroke-width="0.12" text-anchor="middle" transform="rotate(-90 420.9 228.3)">60</text>
<text x="420.9" y="217.9" font-size="4.4" fill="#222" stroke="#222" stroke-width="0.12" text-anchor="middle" transform="rotate(-90 420.9 217.9)">70</text>
<text x="483.74" y="229.7" font-size="11.5" font-weight="bold" fill="#111" textLength="18.22" lengthAdjust="spacingAndGlyphs">NQ</text>
<polygon points="453.7,396.2 453.7,395.2 458.7,394.8 462.3,394.2 463.8,390.1 464.8,380.0 465.7,365.6 466.7,348.2 467.5,332.3 468.4,323.0 469.1,328.0 470.3,341.0 471.7,353.3 473.2,361.2 473.9,362.7 474.9,355.5 475.8,343.9 476.5,337.4 477.1,338.1 477.9,348.2 479.0,362.7 480.1,377.1 481.4,387.3 482.9,393.0 484.7,394.9 484.7,396.2" fill="#a0a0a0" stroke="#5a5a5a" stroke-width="0.7" stroke-linejoin="round"/>
<path d="M426.0,321.6 H508.5 V396.2" fill="none" stroke="#666" stroke-width="0.9"/>
<path d="M426.0,321.20000000000005 V396.2 H508.9" fill="none" stroke="#333" stroke-width="1.1"/>
<path d="M422.8,396.2H426.0 M424.0,391.3H426.0 M424.0,386.5H426.0 M424.0,381.6H426.0 M424.0,376.7H426.0 M422.8,371.9H426.0 M424.0,367.0H426.0 M424.0,362.2H426.0 M424.0,357.3H426.0 M424.0,352.4H426.0 M422.8,347.6H426.0 M424.0,342.7H426.0 M424.0,337.8H426.0 M424.0,333.0H426.0 M424.0,328.1H426.0 M422.8,323.2H426.0 M428.1,396.2V398.2 M430.2,396.2V398.2 M431.8,396.2V398.2 M433.2,396.2V398.2 M434.4,396.2V398.2 M435.5,396.2V398.2 M436.4,396.2V399.59999999999997 M442.7,396.2V398.2 M446.4,396.2V398.2 M449.0,396.2V398.2 M451.0,396.2V398.2 M452.7,396.2V398.2 M454.1,396.2V398.2 M455.3,396.2V398.2 M456.4,396.2V398.2 M457.3,396.2V399.59999999999997 M463.6,396.2V398.2 M467.3,396.2V398.2 M469.9,396.2V398.2 M471.9,396.2V398.2 M473.6,396.2V398.2 M475.0,396.2V398.2 M476.2,396.2V398.2 M477.3,396.2V398.2 M478.2,396.2V399.59999999999997 M484.5,396.2V398.2 M488.2,396.2V398.2 M490.8,396.2V398.2 M492.8,396.2V398.2 M494.5,396.2V398.2 M495.9,396.2V398.2 M497.1,396.2V398.2 M498.1,396.2V398.2 M499.1,396.2V399.59999999999997 M505.4,396.2V398.2" stroke="#222" stroke-width="0.7" fill="none"/>
<text x="433.6" y="405.8" font-size="5" fill="#333" stroke="#333" stroke-width="0.1">10<tspan font-size="3.4" dy="-2.4">2</tspan></text>
<text x="454.5" y="405.8" font-size="5" fill="#333" stroke="#333" stroke-width="0.1">10<tspan font-size="3.4" dy="-2.4">3</tspan></text>
<text x="475.4" y="405.8" font-size="5" fill="#333" stroke="#333" stroke-width="0.1">10<tspan font-size="3.4" dy="-2.4">4</tspan></text>
<text x="496.3" y="405.8" font-size="5" fill="#333" stroke="#333" stroke-width="0.1">10<tspan font-size="3.4" dy="-2.4">5</tspan></text>
<text x="420.7" y="396.2" font-size="4.4" fill="#222" stroke="#222" stroke-width="0.12" text-anchor="middle" transform="rotate(-90 420.7 396.2)">0</text>
<text x="420.7" y="371.9" font-size="4.4" fill="#222" stroke="#222" stroke-width="0.12" text-anchor="middle" transform="rotate(-90 420.7 371.9)">50</text>
<text x="420.7" y="347.6" font-size="4.4" fill="#222" stroke="#222" stroke-width="0.12" text-anchor="middle" transform="rotate(-90 420.7 347.6)">100</text>
<text x="420.7" y="323.2" font-size="4.4" fill="#222" stroke="#222" stroke-width="0.12" text-anchor="middle" transform="rotate(-90 420.7 323.2)">150</text>
<text x="477.54" y="334.7" font-size="11.5" font-weight="bold" fill="#111" textLength="29.52" lengthAdjust="spacingAndGlyphs">1/300</text>
<path d="M121.0,300.7 L140.3,300.7 M133.6,304.4 L140.8,300.7 L133.6,297.0" stroke="#000" stroke-width="2.2" fill="none" stroke-linecap="round" stroke-linejoin="round"/>
<path d="M242.0,303.0 L315.4,303.0 M309.5,306.9 L315.9,303.0 L309.5,299.1" stroke="#000" stroke-width="2.2" fill="none" stroke-linecap="round" stroke-linejoin="round"/>
<path d="M350.4,260 V240.0 H414" stroke="#000" stroke-width="2.2" fill="none"/>
<path d="M405.0,240.0 L413.2,240.0 M407.1,243.8 L413.7,240.0 L407.1,236.2" stroke="#000" stroke-width="2.2" fill="none" stroke-linecap="round" stroke-linejoin="round"/>
<path d="M374.6,349.2 V368.2 H408" stroke="#000" stroke-width="2.2" fill="none"/>
<path d="M400.0,368.2 L409.3,368.2 M403.2,372.0 L409.8,368.2 L403.2,364.4" stroke="#000" stroke-width="2.2" fill="none" stroke-linecap="round" stroke-linejoin="round"/>
<path d="M49.2,359.4 L219.8,359.4 M210.4,364.5 L220.2,359.4 L210.4,354.3" stroke="#000" stroke-width="2.9" fill="none" stroke-linecap="round" stroke-linejoin="round"/>
<path d="M352.5,414.0 L512.0,414.0 M501.9,419.4 L512.5,414.0 L501.9,408.6" stroke="#000" stroke-width="3.0" fill="none" stroke-linecap="round" stroke-linejoin="round"/>
<line x1="49.4" y1="556.2" x2="330.6" y2="556.2" stroke="#d0d0d0" stroke-width="1"/>
<line x1="49.4" y1="530.0" x2="330.6" y2="530.0" stroke="#d0d0d0" stroke-width="1"/>
<line x1="49.4" y1="503.8" x2="330.6" y2="503.8" stroke="#d0d0d0" stroke-width="1"/>
<line x1="49.4" y1="477.6" x2="330.6" y2="477.6" stroke="#d0d0d0" stroke-width="1"/>
<line x1="49.4" y1="451.4" x2="330.6" y2="451.4" stroke="#d0d0d0" stroke-width="1"/>
<line x1="49.4" y1="425.2" x2="330.6" y2="425.2" stroke="#d0d0d0" stroke-width="1"/>
<line x1="49.4" y1="399.0" x2="330.6" y2="399.0" stroke="#d0d0d0" stroke-width="1"/>
<line x1="330.8" y1="399.0" x2="330.8" y2="582.4" stroke="#c0c0c0" stroke-width="1"/>
<line x1="51" y1="463.1" x2="330.6" y2="463.1" stroke="#000" stroke-width="2.1" stroke-dasharray="5.4 2.5" stroke-dashoffset="5.4"/>
<line x1="49.4" y1="424.0" x2="330.6" y2="561.3" stroke="#bccf62" stroke-width="1.4"/>
<line x1="49.4" y1="422.3" x2="330.6" y2="562.5" stroke="#ad2f1e" stroke-width="1.5"/>
<line x1="49.4" y1="398" x2="49.4" y2="583.5" stroke="#000" stroke-width="2.4"/>
<line x1="48.3" y1="582.4" x2="331" y2="582.4" stroke="#000" stroke-width="2.3"/>
<path d="M46.4,582.4H49.4 M46.4,556.2H49.4 M46.4,530.0H49.4 M46.4,503.8H49.4 M46.4,477.6H49.4 M46.4,451.4H49.4 M46.4,425.2H49.4 M46.4,399.0H49.4 M49.4,582.4V585.6 M89.6,582.4V585.6 M129.7,582.4V585.6 M169.9,582.4V585.6 M210.1,582.4V585.6 M250.3,582.4V585.6 M290.4,582.4V585.6 M330.6,582.4V585.6" stroke="#000" stroke-width="1.6" fill="none"/>
<text x="40.0" y="587.0" font-size="11.0" fill="#111" text-anchor="end">15</text>
<text x="40.0" y="560.8" font-size="11.0" fill="#111" text-anchor="end">20</text>
<text x="40.0" y="534.6" font-size="11.0" fill="#111" text-anchor="end">25</text>
<text x="40.0" y="508.4" font-size="11.0" fill="#111" text-anchor="end">30</text>
<text x="40.0" y="482.2" font-size="11.0" fill="#111" text-anchor="end">35</text>
<text x="40.0" y="456.0" font-size="11.0" fill="#111" text-anchor="end">40</text>
<text x="40.0" y="429.8" font-size="11.0" fill="#111" text-anchor="end">45</text>
<text x="40.0" y="403.6" font-size="11.0" fill="#111" text-anchor="end">50</text>
<text x="49.4" y="600.2" font-size="10.8" fill="#111" text-anchor="middle">-1</text>
<text x="89.6" y="600.2" font-size="10.8" fill="#111" text-anchor="middle">0</text>
<text x="129.7" y="600.2" font-size="10.8" fill="#111" text-anchor="middle">1</text>
<text x="169.9" y="600.2" font-size="10.8" fill="#111" text-anchor="middle">2</text>
<text x="210.1" y="600.2" font-size="10.8" fill="#111" text-anchor="middle">3</text>
<text x="250.3" y="600.2" font-size="10.8" fill="#111" text-anchor="middle">4</text>
<text x="290.4" y="600.2" font-size="10.8" fill="#111" text-anchor="middle">5</text>
<text x="330.6" y="600.2" font-size="10.8" fill="#111" text-anchor="middle">6</text>
<text x="21.2" y="491.4" font-size="16.3" font-weight="bold" fill="#000" stroke="#000" stroke-width="0.3" text-anchor="middle" transform="rotate(-90 21.2 491.4)">Ct</text>
<text x="171.26" y="617.6" font-size="13.4" font-weight="bold" fill="#111" textLength="57.67" lengthAdjust="spacingAndGlyphs">Log [CO]</text>
<text x="207.01" y="422.0" font-size="17.2" font-weight="bold" fill="#bd1520" textLength="82.88" lengthAdjust="spacingAndGlyphs">BCL2/IGH</text>
<text x="247.61" y="500" font-size="17.2" font-weight="bold" fill="#6fab3c" textLength="63.88" lengthAdjust="spacingAndGlyphs">GAPDH</text>
<rect x="82.2" y="436.6" width="4.0" height="4.0" fill="#5a1a14"/>
<rect x="82.1" y="439.1" width="2.6" height="2.6" fill="#8fb84a"/>
<rect x="165.5" y="478.1" width="4.6" height="4.6" fill="#a8301f"/>
<rect x="164.1" y="479.7" width="3.0" height="3.0" fill="#2a1410"/>
<rect x="168.7" y="484.4" width="3.2" height="3.2" fill="#a8c870"/>
<ellipse cx="180.4" cy="487.6" rx="3.8" ry="2.4" fill="#111" transform="rotate(27 180.4 487.6)"/>
<rect x="208.3" y="502.1" width="3.8" height="3.8" fill="#a8a860"/>
<rect x="208.6" y="500.8" width="3.6" height="3.6" fill="#b34a2a"/>
<rect x="248.0" y="522.4" width="4.4" height="4.4" fill="#b8452a"/>
<ellipse cx="266.8" cy="531.4" rx="4.4" ry="2.9" fill="#8a2a1a" transform="rotate(27 266.8 531.4)"/>
<ellipse cx="266.8" cy="531.4" rx="3.6" ry="2.2" fill="#111" transform="rotate(27 266.8 531.4)"/>
<rect x="289.4" y="538.8" width="3.6" height="3.6" fill="#c8c890"/>
<rect x="288.5" y="542.9" width="3.8" height="3.8" fill="#b8452a"/>
<rect x="328.1" y="560.7" width="3.4" height="3.4" fill="#b8452a"/>
<rect x="89" y="500.5" width="58" height="14" fill="#fff"/>
<text x="89.92" y="416.75" font-size="11.31" font-weight="bold" fill="#b82228" stroke="#b82228" stroke-width="0.3" textLength="45.2" lengthAdjust="spacingAndGlyphs">D4 CFSE</text>
<text x="135.11" y="412.75" font-size="8.2" font-weight="bold" fill="#b82228" stroke="#b82228" stroke-width="0.18" textLength="9.1" lengthAdjust="spacingAndGlyphs">lo</text>
<text x="82.27" y="493.3" font-size="10.47" font-weight="bold" fill="#b82228" stroke="#b82228" stroke-width="0.3" textLength="42.8" lengthAdjust="spacingAndGlyphs">D4 CD19</text>
<text x="124.79" y="489.8" font-size="6.8" font-weight="bold" fill="#b82228" stroke="#b82228" stroke-width="0.18" textLength="11.0" lengthAdjust="spacingAndGlyphs">pos</text>
<text x="92.20" y="511.8" font-size="11.59" font-weight="bold" fill="#b82228" stroke="#b82228" stroke-width="0.3" textLength="45.8" lengthAdjust="spacingAndGlyphs">D4 CFSE</text>
<text x="137.44" y="507.2" font-size="7.6" font-weight="bold" fill="#b82228" stroke="#b82228" stroke-width="0.18" textLength="8.4" lengthAdjust="spacingAndGlyphs">hi</text>
<text x="134.01" y="526.7" font-size="9.78" font-weight="bold" fill="#b82228" stroke="#b82228" stroke-width="0.3" textLength="41.6" lengthAdjust="spacingAndGlyphs">D0 CD19</text>
<text x="175.69" y="523.2" font-size="6.8" font-weight="bold" fill="#b82228" stroke="#b82228" stroke-width="0.18" textLength="11.8" lengthAdjust="spacingAndGlyphs">pos</text>
<path d="M108.8,419.3 L88.8,437.9 M90.8,431.1 L88.4,438.2 L95.7,436.4" stroke="#c0301f" stroke-width="2.0" fill="none" stroke-linecap="round" stroke-linejoin="round"/>
<path d="M137.0,487.3 L162.8,483.7 M157.3,488.1 L163.3,483.6 L156.3,481.0" stroke="#c0301f" stroke-width="2.0" fill="none" stroke-linecap="round" stroke-linejoin="round"/>
<path d="M148.5,504.6 L173.2,492.8 M169.3,498.7 L173.7,492.6 L166.2,492.2" stroke="#c0301f" stroke-width="2.0" fill="none" stroke-linecap="round" stroke-linejoin="round"/>
<path d="M178.5,517.5 L182.3,496.0 M184.8,502.6 L182.4,495.5 L177.7,501.4" stroke="#c0301f" stroke-width="2.0" fill="none" stroke-linecap="round" stroke-linejoin="round"/>
<text x="174.79" y="541.5" font-size="10.20" font-weight="bold" fill="#6fab3c" stroke="#6fab3c" stroke-width="0.3" textLength="45.8" lengthAdjust="spacingAndGlyphs">D4 CFSE</text>
<text x="220.40" y="537.2" font-size="6.6" font-weight="bold" fill="#6fab3c" stroke="#6fab3c" stroke-width="0.18" textLength="7.7" lengthAdjust="spacingAndGlyphs">hi</text>
<text x="190.84" y="556.3" font-size="11.03" font-weight="bold" fill="#6fab3c" stroke="#6fab3c" stroke-width="0.3" textLength="45.2" lengthAdjust="spacingAndGlyphs">D4 CFSE</text>
<text x="235.77" y="552.6" font-size="7.2" font-weight="bold" fill="#6fab3c" stroke="#6fab3c" stroke-width="0.18" textLength="8.5" lengthAdjust="spacingAndGlyphs">lo</text>
<text x="231.40" y="571.6" font-size="10.06" font-weight="bold" fill="#6fab3c" stroke="#6fab3c" stroke-width="0.3" textLength="41.6" lengthAdjust="spacingAndGlyphs">D0 CD19</text>
<text x="272.59" y="569.0" font-size="6.8" font-weight="bold" fill="#6fab3c" stroke="#6fab3c" stroke-width="0.18" textLength="12.4" lengthAdjust="spacingAndGlyphs">pos</text>
<text x="275.03" y="579.2" font-size="9.50" font-weight="bold" fill="#6fab3c" stroke="#6fab3c" stroke-width="0.3" textLength="41.5" lengthAdjust="spacingAndGlyphs">D4 CD19</text>
<text x="315.99" y="576.0" font-size="6.8" font-weight="bold" fill="#6fab3c" stroke="#6fab3c" stroke-width="0.18" textLength="12.4" lengthAdjust="spacingAndGlyphs">pos</text>
<path d="M230.4,536.6 L257.2,532.8 M250.9,537.6 L257.7,532.8 L249.8,529.9" stroke="#6fab3c" stroke-width="2.2" fill="none" stroke-linecap="round" stroke-linejoin="round"/>
<path d="M246.5,545.8 L260.5,537.2 M256.7,544.2 L261.0,537.0 L252.6,537.5" stroke="#6fab3c" stroke-width="2.2" fill="none" stroke-linecap="round" stroke-linejoin="round"/>
<path d="M261.9,555.0 L265.4,539.6 M267.7,547.2 L265.6,539.1 L260.1,545.4" stroke="#6fab3c" stroke-width="2.2" fill="none" stroke-linecap="round" stroke-linejoin="round"/>
<path d="M300.4,565.8 L272.4,540.0 M280.1,541.8 L272.0,539.6 L274.8,547.5" stroke="#6fab3c" stroke-width="2.2" fill="none" stroke-linecap="round" stroke-linejoin="round"/>
</svg>
</body></html>
